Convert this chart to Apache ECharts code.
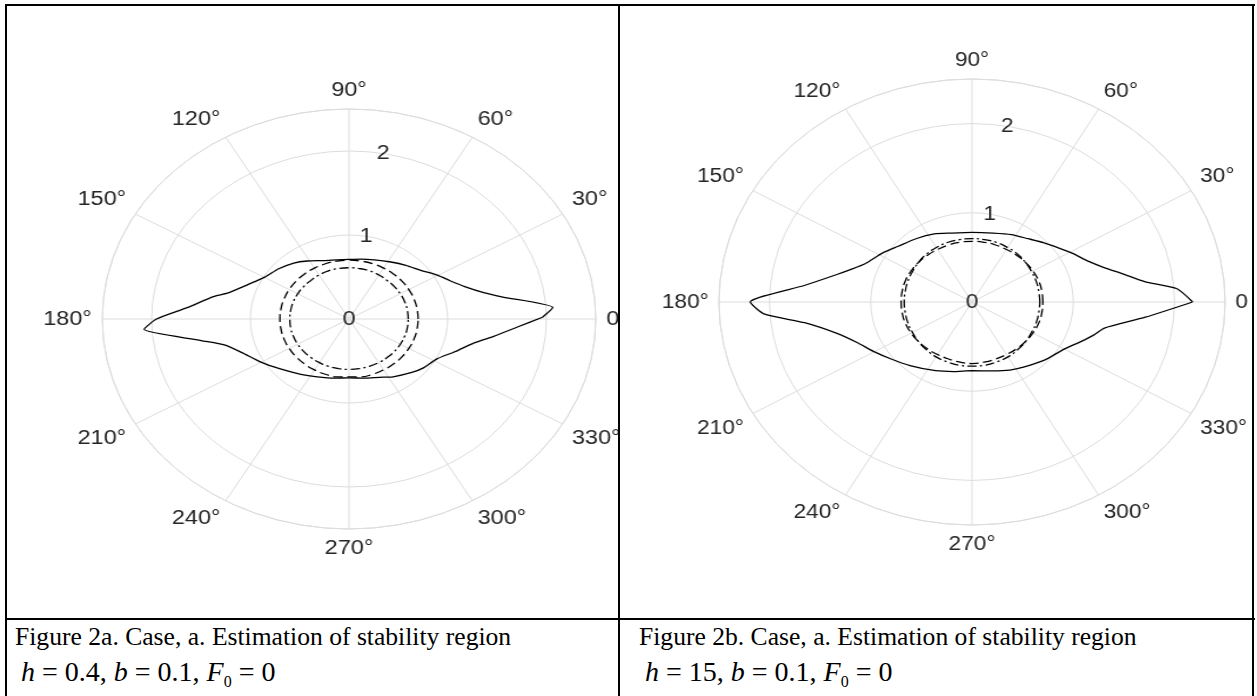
<!DOCTYPE html>
<html><head><meta charset="utf-8">
<script src="https://cdn.jsdelivr.net/npm/echarts@6/dist/echarts.min.js"></script>
<style>
html,body{margin:0;padding:0;background:#fff;width:1257px;height:696px;overflow:hidden;position:relative;}
.ln{position:absolute;background:#000;}
.clip{position:absolute;overflow:hidden;}
.chart{position:absolute;top:0;}
.cap{position:absolute;font-family:'Liberation Serif','Times New Roman',serif;color:#000;white-space:nowrap;}
.t{font-size:25.6px;line-height:25px;}
.f{font-size:28px;line-height:28px;}
.f i{font-style:italic;}
.f sub{font-size:16px;vertical-align:-6px;line-height:0;}
</style></head><body>
<div class="ln" style="left:5px;top:4px;width:1250px;height:2px"></div>
<div class="ln" style="left:5px;top:4px;width:2px;height:692px"></div>
<div class="ln" style="left:1252px;top:4px;width:2px;height:692px"></div>
<div class="ln" style="left:618px;top:4px;width:2px;height:692px"></div>
<div class="ln" style="left:5px;top:618px;width:1250px;height:2px"></div>

<div class="clip" style="left:7px;top:6px;width:611px;height:612px">
  <div id="c1" class="chart" style="left:62px;width:560px;height:612px;transform-origin:280px 0;transform:scaleX(1.175)"></div>
</div>
<div class="clip" style="left:620px;top:6px;width:632px;height:612px">
  <div id="c2" class="chart" style="left:72px;width:560px;height:612px;transform-origin:280px 0;transform:scaleX(1.135)"></div>
</div>

<div class="cap t" style="left:15px;top:624px;">Figure 2a. Case, a. Estimation of stability region</div>
<div class="cap f" style="left:14px;top:658px;">&nbsp;<i>h</i> = 0.4, <i>b</i> = 0.1, <i>F</i><sub>0</sub> = 0</div>
<div class="cap t" style="left:639px;top:624px;">Figure 2b. Case, a. Estimation of stability region</div>
<div class="cap f" style="left:638px;top:658px;">&nbsp;<i>h</i> = 15, <i>b</i> = 0.1, <i>F</i><sub>0</sub> = 0</div>

<script>
// ---- data (angle in degrees, radius) ----
const thetaTicks = [0, 30, 60, 90, 120, 150, 180, 210, 240, 270, 300, 330];
const radiusTicks = [0, 1, 2];

const leftSolidTheta = [0.6, 3.8, 9.7, 13, 18, 24, 30, 38.5, 48, 58, 70, 80, 90, 100, 110, 121.5, 130, 140, 150, 158, 166, 169, 175.3, 180, 183.4, 189.7, 193.7, 200, 209.9, 220, 233.4, 245, 258, 270, 282, 294, 303, 315, 322, 332, 340, 347.4, 352, 356.8, 0.6];
const leftSolidR = [1.96, 2.07, 1.57, 1.40, 1.24, 1.12, 1.04, 0.93, 0.86, 0.80, 0.75, 0.725, 0.71, 0.715, 0.74, 0.81, 0.87, 0.93, 0.99, 1.10, 1.27, 1.40, 1.645, 1.95, 2.08, 1.52, 1.30, 1.16, 1.03, 0.92, 0.82, 0.76, 0.72, 0.70, 0.72, 0.76, 0.82, 0.90, 0.95, 1.01, 1.14, 1.30, 1.48, 1.709, 1.96];

const circleTheta = [0, 10, 20, 30, 40, 50, 60, 70, 80, 90, 100, 110, 120, 130, 140, 150, 160, 170, 180, 190, 200, 210, 220, 230, 240, 250, 260, 270, 280, 290, 300, 310, 320, 330, 340, 350, 360];
const leftDashedR = [0.70, 0.70, 0.70, 0.70, 0.70, 0.70, 0.70, 0.70, 0.70, 0.70, 0.70, 0.70, 0.70, 0.70, 0.70, 0.70, 0.70, 0.70, 0.70, 0.70, 0.70, 0.70, 0.70, 0.70, 0.70, 0.70, 0.70, 0.69, 0.70, 0.70, 0.70, 0.70, 0.70, 0.70, 0.70, 0.70, 0.70];
const leftDashDotR = [0.60, 0.60, 0.60, 0.60, 0.60, 0.60, 0.605, 0.61, 0.61, 0.61, 0.61, 0.61, 0.605, 0.60, 0.60, 0.60, 0.60, 0.60, 0.60, 0.60, 0.60, 0.60, 0.60, 0.60, 0.60, 0.60, 0.60, 0.60, 0.60, 0.60, 0.60, 0.60, 0.60, 0.60, 0.60, 0.60, 0.60];

const rightSolidTheta = [0, 4.2, 7.6, 12, 16.5, 22, 29, 36, 43.3, 52, 62.8, 75, 90, 105, 116, 128, 139.4, 148, 157.9, 163, 167, 173.5, 180, 183.7, 188, 194.8, 202, 209.6, 219, 229.3, 245, 257, 270, 285, 296, 304.8, 318, 329.6, 338, 343, 347.4, 354.3, 0];
const rightSolidR = [2.18, 2.03, 1.72, 1.52, 1.36, 1.23, 1.13, 1.04, 0.97, 0.90, 0.85, 0.80, 0.78, 0.80, 0.85, 0.90, 0.96, 1.04, 1.14, 1.25, 1.37, 1.66, 2.19, 2.06, 1.67, 1.38, 1.22, 1.12, 1.02, 0.94, 0.85, 0.80, 0.77, 0.80, 0.85, 0.89, 0.97, 1.05, 1.17, 1.26, 1.34, 1.72, 2.18];
const rightDashedR = [0.70, 0.70, 0.70, 0.695, 0.69, 0.685, 0.68, 0.68, 0.68, 0.68, 0.68, 0.68, 0.68, 0.685, 0.69, 0.695, 0.70, 0.70, 0.70, 0.70, 0.70, 0.695, 0.69, 0.685, 0.68, 0.68, 0.685, 0.69, 0.685, 0.68, 0.68, 0.685, 0.69, 0.695, 0.70, 0.70, 0.70];
const rightDashDotR = [0.67, 0.67, 0.675, 0.68, 0.69, 0.70, 0.705, 0.71, 0.71, 0.71, 0.71, 0.71, 0.705, 0.70, 0.69, 0.68, 0.675, 0.67, 0.67, 0.67, 0.675, 0.68, 0.69, 0.70, 0.71, 0.715, 0.72, 0.72, 0.72, 0.715, 0.71, 0.70, 0.69, 0.68, 0.675, 0.67, 0.67];

const rMax = 2.5;

function pairs(th, r) { return th.map((t, i) => [r[i], t]); }

const GRID = '#dcdcdc';
const TXT = '#262626';
const FONT = "'Liberation Sans', Arial, Helvetica, sans-serif";
const FS = 20;

function buildOption(center, radius, solid, dashed, dashdot) {
  return {
    animation: false,
    polar: [
      { center: center, radius: radius },
      { center: center, radius: radius }
    ],
    angleAxis: [
      {
        polarIndex: 0, type: 'value', min: 0, max: 360, interval: 30,
        startAngle: 0, clockwise: false,
        axisLine: { show: true, lineStyle: { color: GRID, width: 1 } },
        axisTick: { show: false },
        axisLabel: {
          show: true, margin: 9, color: TXT, fontSize: FS, fontFamily: FONT,
          formatter: v => (thetaTicks.indexOf(v) < 0 ? '' : (v === 0 ? '0' : v + '°'))
        },
        splitLine: { show: true, lineStyle: { color: GRID, width: 1 } }
      },
      {
        polarIndex: 1, type: 'value', min: 0, max: 360, startAngle: 80, clockwise: false,
        axisLine: { show: false }, axisTick: { show: false }, axisLabel: { show: false },
        splitLine: { show: false }
      }
    ],
    radiusAxis: [
      {
        polarIndex: 0, type: 'value', min: 0, max: rMax, interval: 1,
        axisLine: { show: false }, axisTick: { show: false }, axisLabel: { show: false },
        splitLine: { show: true, lineStyle: { color: GRID, width: 1 } }
      },
      {
        polarIndex: 1, type: 'value', min: 0, max: rMax, interval: 1,
        axisLine: { show: false }, axisTick: { show: false }, splitLine: { show: false },
        axisLabel: {
          show: true, margin: 0, rotate: 0, align: 'center', verticalAlign: 'middle',
          color: TXT, fontSize: FS, fontFamily: FONT,
          formatter: v => (radiusTicks.indexOf(v) < 0 ? '' : String(v))
        }
      }
    ],
    series: [
      { type: 'line', coordinateSystem: 'polar', polarIndex: 0, data: solid, showSymbol: false, silent: true, smooth: 0.2,
        lineStyle: { color: '#000', width: 1.3, type: 'solid' }, z: 5 },
      { type: 'line', coordinateSystem: 'polar', polarIndex: 0, data: dashed, showSymbol: false, silent: true, smooth: true,
        lineStyle: { color: '#000', width: 1.3, type: [8, 4] }, z: 4 },
      { type: 'line', coordinateSystem: 'polar', polarIndex: 0, data: dashdot, showSymbol: false, silent: true, smooth: true,
        lineStyle: { color: '#000', width: 1.3, type: [8, 3, 2, 3] }, z: 4 }
    ]
  };
}

const c1 = echarts.init(document.getElementById('c1'));
c1.setOption(buildOption([280, 313], 210,
  pairs(leftSolidTheta, leftSolidR), pairs(circleTheta, leftDashedR), pairs(circleTheta, leftDashDotR)));

const c2 = echarts.init(document.getElementById('c2'));
c2.setOption(buildOption([280, 296], 223,
  pairs(rightSolidTheta, rightSolidR), pairs(circleTheta, rightDashedR), pairs(circleTheta, rightDashDotR)));
</script>
</body></html>
